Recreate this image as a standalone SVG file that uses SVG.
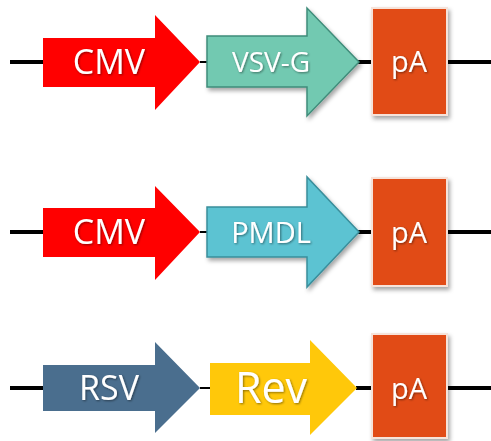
<svg xmlns="http://www.w3.org/2000/svg" width="491" height="441" viewBox="0 0 491 441">
<defs>
<filter id="sh" x="-20%" y="-20%" width="150%" height="150%">
<feDropShadow dx="2" dy="3" stdDeviation="2" flood-color="#000" flood-opacity="0.35"/>
</filter>
<filter id="ts" x="-20%" y="-20%" width="140%" height="140%">
<feDropShadow dx="1" dy="1" stdDeviation="0.8" flood-color="#000" flood-opacity="0.45"/>
</filter>
</defs>
<style>
.ln{stroke:#000;stroke-width:4;fill:none}
.t{font-family:"Open Sans","Noto Sans","Liberation Sans",sans-serif;fill:#fff;text-anchor:middle;filter:url(#ts)}
.pa{fill:#E14B19;stroke:#F6E3DA;stroke-width:2;filter:url(#sh)}
</style>
<rect width="491" height="441" fill="#fff"/>
<g id="connectors">
<line class="ln" x1="10" y1="62" x2="43" y2="62"/>
<line class="ln" x1="200" y1="62" x2="208" y2="62" style="stroke-width:2"/>
<line class="ln" x1="358" y1="62" x2="373" y2="62"/>
<line class="ln" x1="447" y1="62" x2="491" y2="62"/>
<line class="ln" x1="10" y1="232" x2="43" y2="232"/>
<line class="ln" x1="200" y1="232" x2="208" y2="232" style="stroke-width:2"/>
<line class="ln" x1="358" y1="232" x2="373" y2="232"/>
<line class="ln" x1="447" y1="232" x2="491" y2="232"/>
<line class="ln" x1="10" y1="388" x2="43" y2="388"/>
<line class="ln" x1="200" y1="388" x2="210" y2="388" style="stroke-width:2"/>
<line class="ln" x1="356" y1="388" x2="373" y2="388"/>
<line class="ln" x1="447" y1="388" x2="491" y2="388"/>
</g>
<g id="cmv1">
<polygon points="43,38 155,38 155,15 200,62 155,110 155,87 43,87" fill="#FF0000"/>
<text class="t" x="109" y="74" font-size="34">CMV</text>
</g>
<g id="vsvg">
<polygon points="207,36 307,36 307,8 359,62 307,116 307,87 207,87" fill="#72C9B1" stroke="#3F8C7A" stroke-width="1.5" filter="url(#sh)"/>
<text class="t" x="271" y="72" font-size="28">VSV-G</text>
</g>
<g id="pa1">
<rect class="pa" x="372" y="8" width="75" height="107"/>
<text class="t" x="409" y="72" font-size="29">pA</text>
</g>
<g id="cmv2">
<polygon points="43,208 155,208 155,186 200,232 155,280 155,257 43,257" fill="#FF0000"/>
<text class="t" x="109" y="244" font-size="34">CMV</text>
</g>
<g id="pmdl">
<polygon points="207,207 307,207 307,177 359,232 307,287 307,257 207,257" fill="#5BC3D2" stroke="#3A8E9B" stroke-width="1.5" filter="url(#sh)"/>
<text class="t" x="271" y="243" font-size="29">PMDL</text>
</g>
<g id="pa2">
<rect class="pa" x="372" y="178" width="75" height="108"/>
<text class="t" x="409" y="243" font-size="29">pA</text>
</g>
<g id="rsv">
<polygon points="43,365 155,365 155,342 200,388 155,433 155,411 43,411" fill="#4A6E8E"/>
<text class="t" x="109" y="400" font-size="34">RSV</text>
</g>
<g id="rev">
<polygon points="210,363 310,363 310,340 357,388 310,435 310,415 210,415" fill="#FFC80A"/>
<text class="t" x="271" y="403" font-size="43">Rev</text>
</g>
<g id="pa3">
<rect class="pa" x="372" y="334" width="75" height="104"/>
<text class="t" x="409" y="399" font-size="29">pA</text>
</g>
</svg>
